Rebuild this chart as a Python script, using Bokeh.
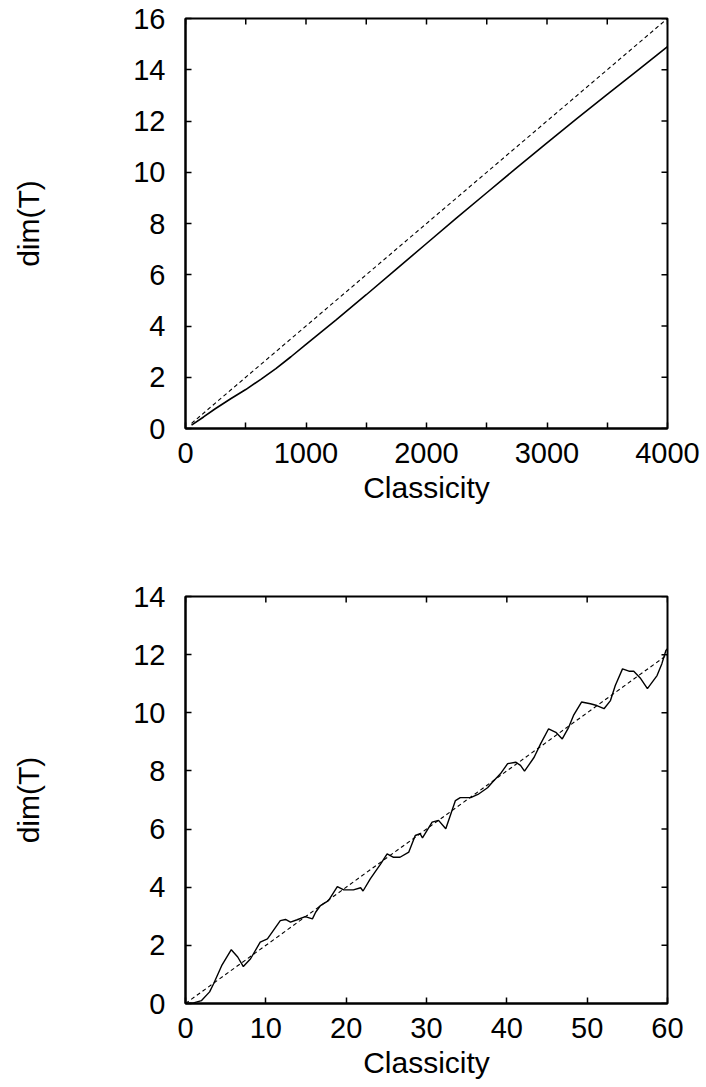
import math
from bokeh.plotting import figure
from bokeh.layouts import column
from bokeh.models import Range1d, FixedTicker
from bokeh.embed import file_html
from bokeh.resources import INLINE

# ---- data: top panel ----
top_x = [50, 150, 250, 375, 500, 625, 750, 875, 1000, 1250, 1500, 1750, 2000,
         2250, 2500, 2750, 3000, 3250, 3500, 3750, 4000]
top_dim = [0.13, 0.45, 0.78, 1.16, 1.52, 1.92, 2.34, 2.8, 3.28, 4.24, 5.22, 6.22,
           7.22, 8.22, 9.2, 10.18, 11.15, 12.1, 13.04, 13.97, 14.9]
top_ref_x = [50, 4000]
top_ref_y = [0.2, 16.0]
top_xticks = [0, 1000, 2000, 3000, 4000]
top_xminor = [500, 1500, 2500, 3500]
top_yticks = [0, 2, 4, 6, 8, 10, 12, 14, 16]

# ---- data: bottom panel ----
bot_x = [0, 1, 2, 3, 3.5, 4.5, 5.7, 6.5, 7.2, 8.1, 9.3, 10.2, 11.8, 12.45, 13.07,
         13.9, 14.9, 15.8, 16.2, 16.8, 17.8, 18.9, 19.7, 20.9, 21.8, 22.1, 23.0,
         24.3, 25.1, 25.9, 26.7, 27.8, 28.6, 29.2, 29.5, 30.7, 31.5, 32.4, 33.6,
         34.2, 35.5, 36.4, 37.6, 38.2, 39.2, 40.1, 41.1, 41.7, 42.2, 42.7, 43.4,
         44.2, 45.2, 46.1, 46.9, 47.7, 48.3, 49.3, 50.4, 51.2, 52.1, 52.9, 53.5,
         54.4, 55.2, 55.8, 56.6, 57.5, 58.7, 59.3, 59.8, 60.0]
bot_dim = [0.0, 0.02, 0.1, 0.4, 0.68, 1.3, 1.85, 1.6, 1.27, 1.54, 2.11, 2.22, 2.85,
           2.89, 2.80, 2.88, 2.99, 2.91, 3.14, 3.37, 3.54, 4.02, 3.91, 3.91, 3.98,
           3.87, 4.29, 4.80, 5.15, 5.03, 5.03, 5.21, 5.78, 5.84, 5.70, 6.24, 6.30,
           6.01, 6.98, 7.08, 7.08, 7.19, 7.42, 7.61, 7.90, 8.25, 8.30, 8.19, 7.99,
           8.19, 8.47, 8.93, 9.45, 9.33, 9.10, 9.50, 9.91, 10.37, 10.31, 10.25,
           10.14, 10.42, 10.94, 11.51, 11.43, 11.43, 11.20, 10.83, 11.28, 11.69,
           12.14, 12.2]
bot_ref_x = [0, 60]
bot_ref_y = [0.0, 12.0]
bot_xticks = [0, 10, 20, 30, 40, 50, 60]
bot_yticks = [0, 2, 4, 6, 8, 10, 12, 14]

FONT = "Liberation Sans"
TICK_FS = "29px"
LABEL_FS = "30px"
TICK_LEN = 6


def style_axis(ax, ticks, minor=None):
    ax.ticker = FixedTicker(ticks=ticks, minor_ticks=minor or [])
    ax.major_tick_in = TICK_LEN
    ax.major_tick_out = 0
    ax.minor_tick_in = TICK_LEN if minor else 0
    ax.minor_tick_out = 0
    ax.major_tick_line_color = "black"
    ax.minor_tick_line_color = "black"
    ax.major_tick_line_width = 1.5
    ax.minor_tick_line_width = 1.5
    ax.axis_line_color = "black"
    ax.axis_line_width = 2
    ax.major_label_text_font = FONT
    ax.major_label_text_font_size = TICK_FS
    ax.major_label_text_color = "black"
    ax.axis_label_text_font = FONT
    ax.axis_label_text_font_size = LABEL_FS
    ax.axis_label_text_font_style = "normal"
    ax.axis_label_text_color = "black"


def make_panel(xt, xm, yt, fh, top_border, bottom_border):
    p = figure(output_backend="svg", toolbar_location=None,
               frame_width=482, frame_height=fh,
               x_range=Range1d(xt[0], xt[-1]), y_range=Range1d(yt[0], yt[-1]),
               min_border_left=185, min_border_right=39,
               min_border_top=top_border, min_border_bottom=bottom_border,
               background_fill_color="white", border_fill_color="white")
    p.grid.visible = False
    p.outline_line_color = "black"
    p.outline_line_width = 2
    xa = p.xaxis[0]
    ya = p.yaxis[0]
    style_axis(xa, xt, xm)
    style_axis(ya, yt)
    xa.axis_label = "Classicity"
    ya.axis_label = "dim(T)"
    xa.major_label_standoff = 14
    xa.axis_label_standoff = 5
    ya.major_label_standoff = 20
    ya.axis_label_standoff = 85
    # mirrored inward ticks on the top and right edges
    xs_all = list(xt) + list(xm or [])
    p.ray(x=xs_all, y=[yt[-1]] * len(xs_all), length=TICK_LEN, length_units="screen",
          angle=-math.pi / 2, line_color="black", line_width=1.5)
    p.ray(x=[xt[-1]] * len(yt), y=yt, length=TICK_LEN, length_units="screen",
          angle=math.pi, line_color="black", line_width=1.5)
    return p


p1 = make_panel(top_xticks, top_xminor, top_yticks, 410, 18, 100)
p1.line(top_ref_x, top_ref_y, line_color="black", line_width=1.1, line_dash="4 3")
p1.line(top_x, top_dim, line_color="black", line_width=1.6)

p2 = make_panel(bot_xticks, None, bot_yticks, 407, 68, 84)
p2.line(bot_ref_x, bot_ref_y, line_color="black", line_width=1.1, line_dash="4 3")
p2.line(bot_x, bot_dim, line_color="black", line_width=1.4)

layout = column(p1, p2, spacing=0)
open("out.html", "w").write(file_html(layout, INLINE))
